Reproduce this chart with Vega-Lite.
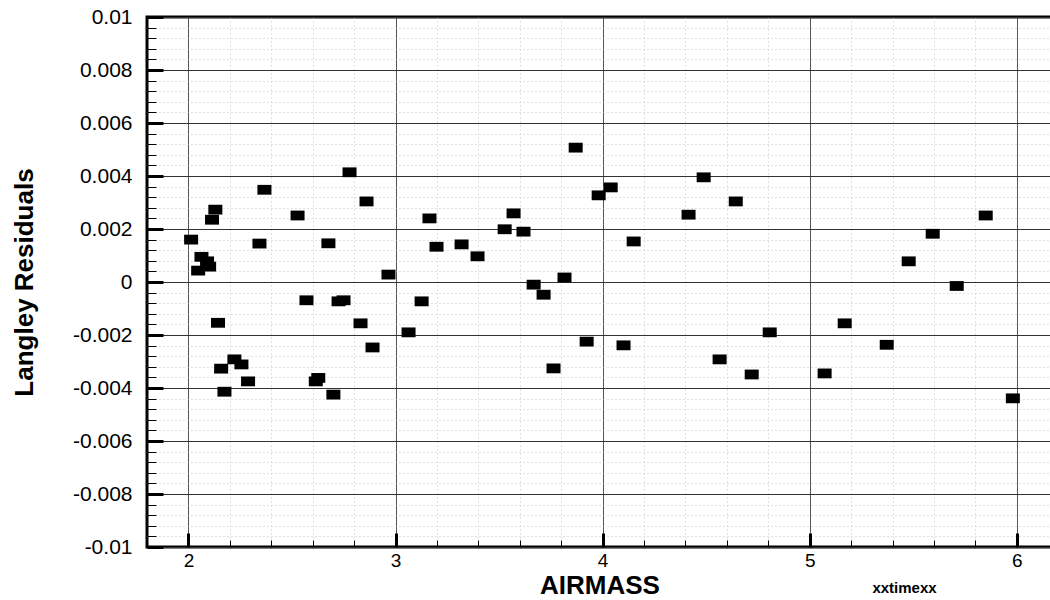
{
  "$schema": "https://vega.github.io/schema/vega-lite/v6.json",
  "width": 905,
  "height": 530,
  "autosize": {"type": "none"},
  "padding": {"left": 147, "top": 17, "right": 0, "bottom": 53},
  "background": "white",
  "config": {
    "font": "Liberation Sans",
    "view": {"stroke": "black", "strokeWidth": 3}
  },
  "datasets": {
    "residuals": [
      {"airmass": 2.013, "residual": 0.00160},
      {"airmass": 2.047, "residual": 0.00043},
      {"airmass": 2.063, "residual": 0.00095},
      {"airmass": 2.090, "residual": 0.00078},
      {"airmass": 2.100, "residual": 0.00058},
      {"airmass": 2.114, "residual": 0.00235},
      {"airmass": 2.130, "residual": 0.00273},
      {"airmass": 2.143, "residual": -0.00154},
      {"airmass": 2.158, "residual": -0.00327},
      {"airmass": 2.174, "residual": -0.00414},
      {"airmass": 2.222, "residual": -0.00292},
      {"airmass": 2.256, "residual": -0.00311},
      {"airmass": 2.288, "residual": -0.00375},
      {"airmass": 2.343, "residual": 0.00145},
      {"airmass": 2.367, "residual": 0.00348},
      {"airmass": 2.527, "residual": 0.00251},
      {"airmass": 2.570, "residual": -0.00069},
      {"airmass": 2.615, "residual": -0.00375},
      {"airmass": 2.627, "residual": -0.00362},
      {"airmass": 2.676, "residual": 0.00146},
      {"airmass": 2.700, "residual": -0.00425},
      {"airmass": 2.725, "residual": -0.00073},
      {"airmass": 2.749, "residual": -0.00069},
      {"airmass": 2.778, "residual": 0.00414},
      {"airmass": 2.831, "residual": -0.00156},
      {"airmass": 2.860, "residual": 0.00304},
      {"airmass": 2.889, "residual": -0.00247},
      {"airmass": 2.966, "residual": 0.00028},
      {"airmass": 3.063, "residual": -0.00190},
      {"airmass": 3.126, "residual": -0.00073},
      {"airmass": 3.164, "residual": 0.00240},
      {"airmass": 3.198, "residual": 0.00133},
      {"airmass": 3.319, "residual": 0.00142},
      {"airmass": 3.396, "residual": 0.00097},
      {"airmass": 3.527, "residual": 0.00199},
      {"airmass": 3.570, "residual": 0.00259},
      {"airmass": 3.618, "residual": 0.00190},
      {"airmass": 3.667, "residual": -0.00010},
      {"airmass": 3.715, "residual": -0.00048},
      {"airmass": 3.763, "residual": -0.00326},
      {"airmass": 3.816, "residual": 0.00017},
      {"airmass": 3.870, "residual": 0.00507},
      {"airmass": 3.923, "residual": -0.00225},
      {"airmass": 3.981, "residual": 0.00327},
      {"airmass": 4.039, "residual": 0.00357},
      {"airmass": 4.101, "residual": -0.00239},
      {"airmass": 4.150, "residual": 0.00153},
      {"airmass": 4.415, "residual": 0.00254},
      {"airmass": 4.488, "residual": 0.00395},
      {"airmass": 4.565, "residual": -0.00292},
      {"airmass": 4.643, "residual": 0.00304},
      {"airmass": 4.720, "residual": -0.00349},
      {"airmass": 4.807, "residual": -0.00190},
      {"airmass": 5.072, "residual": -0.00345},
      {"airmass": 5.169, "residual": -0.00156},
      {"airmass": 5.372, "residual": -0.00237},
      {"airmass": 5.478, "residual": 0.00078},
      {"airmass": 5.594, "residual": 0.00182},
      {"airmass": 5.710, "residual": -0.00015},
      {"airmass": 5.850, "residual": 0.00251},
      {"airmass": 5.981, "residual": -0.00439}
    ]
  },
  "layer": [
    {
      "data": {"name": "residuals"},
      "mark": {"type": "point", "opacity": 0},
      "encoding": {
        "x": {
          "field": "airmass", "type": "quantitative",
          "scale": {"domain": [1.8, 6.17], "nice": false, "zero": false},
          "axis": {
            "orient": "bottom",
            "values": [2.2, 2.4, 2.6, 2.8, 3.2, 3.4, 3.6, 3.8, 4.2, 4.4, 4.6, 4.8, 5.2, 5.4, 5.6, 5.8, 6.2],
            "labels": false, "domain": false,
            "ticks": true, "tickSize": -7, "tickWidth": 1, "tickColor": "black",
            "grid": true, "gridColor": "#c4c4c4", "gridDash": [1, 3], "gridWidth": 1,
            "title": "xxtimexx", "titleFont": "Liberation Sans", "titleFontSize": 15, "titleFontWeight": "bold",
            "titleColor": "black", "titleX": 757, "titleY": 40, "titleAlign": "center", "titleBaseline": "middle"
          }
        },
        "y": {
          "field": "residual", "type": "quantitative",
          "scale": {"domain": [-0.01, 0.01], "nice": false, "zero": false},
          "axis": {
            "orient": "left",
            "values": [-0.0096, -0.0092, -0.0088, -0.0084, -0.0076, -0.0072, -0.0068, -0.0064, -0.0056, -0.0052, -0.0048, -0.0044, -0.0036, -0.0032, -0.0028, -0.0024, -0.0016, -0.0012, -0.0008, -0.0004, 0.0004, 0.0008, 0.0012, 0.0016, 0.0024, 0.0028, 0.0032, 0.0036, 0.0044, 0.0048, 0.0052, 0.0056, 0.0064, 0.0068, 0.0072, 0.0076, 0.0084, 0.0088, 0.0092, 0.0096],
            "labels": false, "domain": false,
            "ticks": true, "tickSize": -9, "tickWidth": 1, "tickColor": "black",
            "grid": true, "gridColor": "#c4c4c4", "gridDash": [1, 3], "gridWidth": 1,
            "title": null
          }
        }
      }
    },
    {
      "data": {"name": "residuals"},
      "mark": {"type": "point", "shape": "M-1,-0.7H1V0.7H-1Z", "filled": true, "color": "black", "opacity": 1, "size": 196, "strokeWidth": 0},
      "encoding": {
        "x": {
          "field": "airmass", "type": "quantitative",
          "scale": {"domain": [1.8, 6.17], "nice": false, "zero": false},
          "axis": {
            "orient": "bottom",
            "values": [2, 3, 4, 5, 6],
            "domain": false,
            "ticks": true, "tickSize": -14, "tickWidth": 3, "tickColor": "black",
            "grid": true, "gridColor": "#555555", "gridWidth": 1,
            "labelFont": "Liberation Sans", "labelFontSize": 19, "labelColor": "black", "labelPadding": 18, "labelBaseline": "top",
            "title": "AIRMASS", "titleFont": "Liberation Sans", "titleFontSize": 26, "titleFontWeight": "bold",
            "titleColor": "black", "titleY": 46, "titleBaseline": "alphabetic"
          }
        },
        "y": {
          "field": "residual", "type": "quantitative",
          "scale": {"domain": [-0.01, 0.01], "nice": false, "zero": false},
          "axis": {
            "orient": "left",
            "values": [-0.01, -0.008, -0.006, -0.004, -0.002, 0, 0.002, 0.004, 0.006, 0.008, 0.01],
            "labelExpr": "replace(format(datum.value, '~g'), '\u2212', '-')",
            "domain": false,
            "ticks": true, "tickSize": -16, "tickWidth": 3, "tickColor": "black",
            "grid": true, "gridColor": "#333333", "gridWidth": 1,
            "labelFont": "Liberation Sans", "labelFontSize": 21, "labelColor": "black", "labelPadding": 31,
            "title": "Langley Residuals", "titleFont": "Liberation Sans", "titleFontSize": 26, "titleFontWeight": "bold",
            "titleColor": "black", "titleAngle": -90, "titleX": -123, "titleY": 265, "titleAlign": "center", "titleBaseline": "middle"
          }
        }
      }
    },
    {
      "mark": {"type": "rule", "color": "black", "strokeWidth": 3},
      "encoding": {
        "y": {"datum": 0, "type": "quantitative", "scale": {"domain": [-0.01, 0.01], "nice": false, "zero": false}, "axis": null}
      }
    }
  ],
  "resolve": {"axis": {"x": "independent", "y": "independent"}}
}
